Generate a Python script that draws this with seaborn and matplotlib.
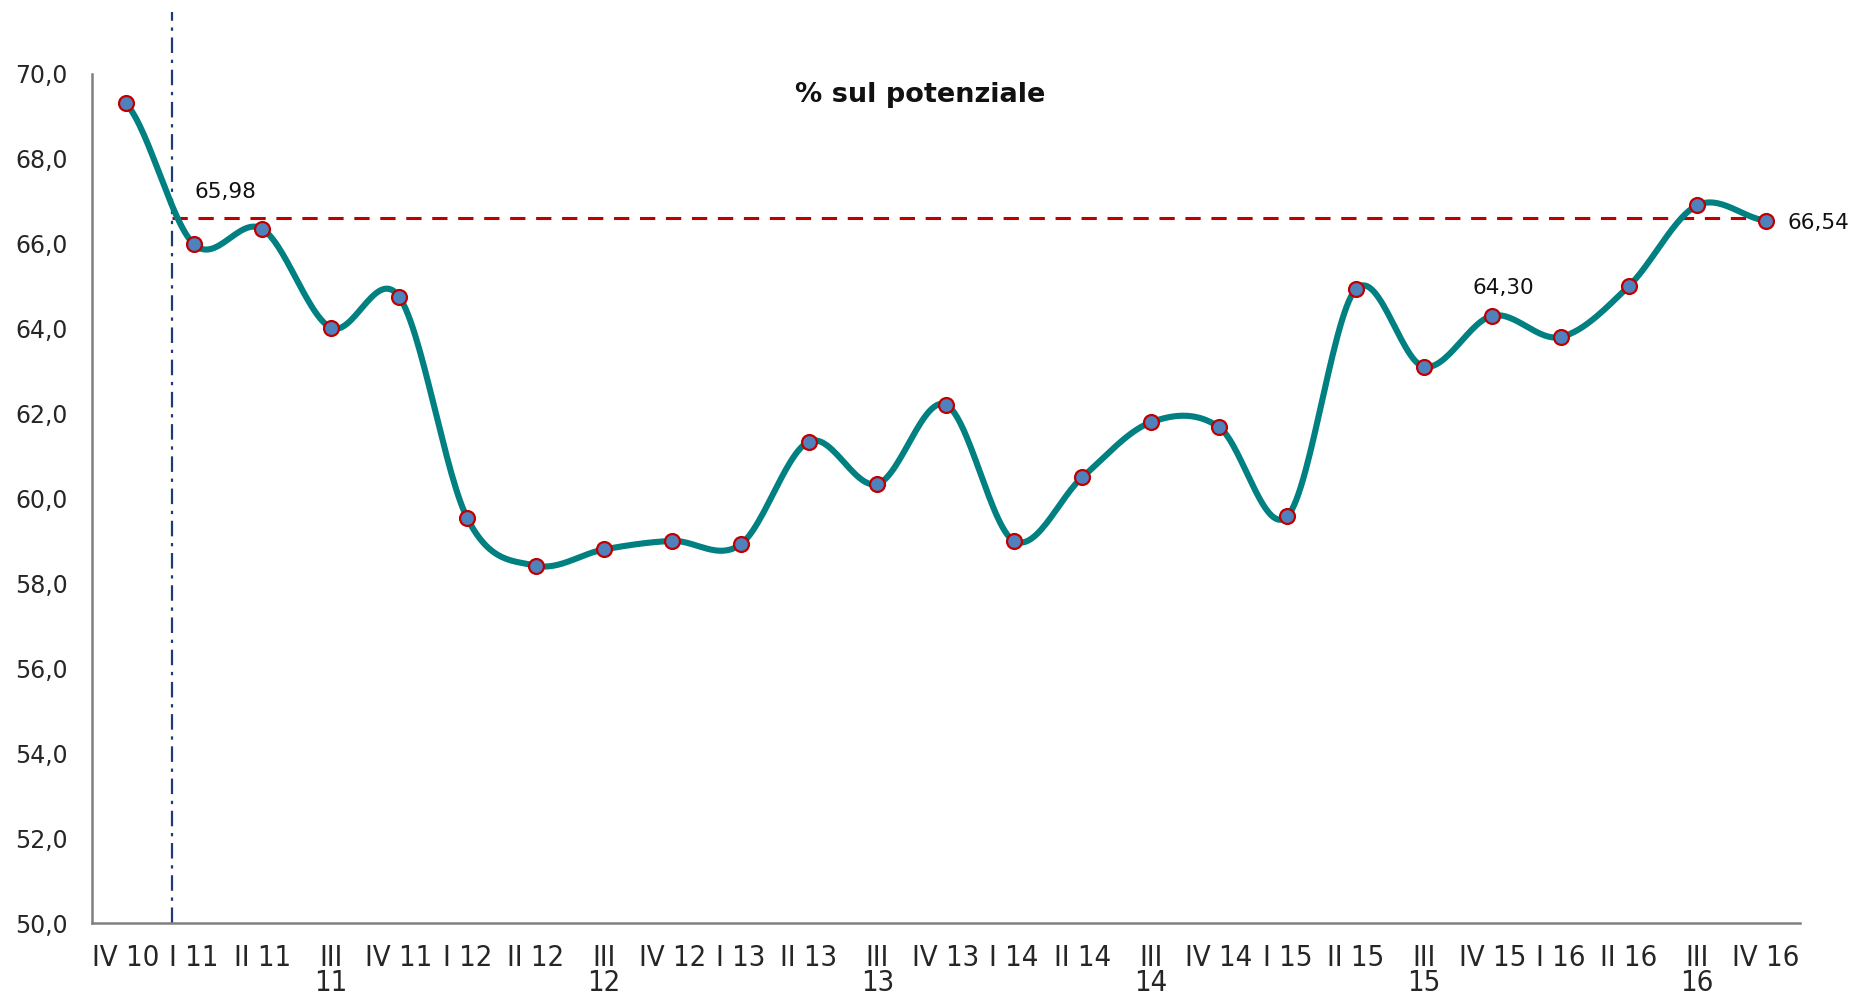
import numpy as np
import pandas as pd
import seaborn as sns
import matplotlib.pyplot as plt
from matplotlib import font_manager

# Quarterly values (% sul potenziale)
quarters = ['IV 10', 'I 11', 'II 11', 'III\n11', 'IV 11', 'I 12', 'II 12', 'III\n12',
            'IV 12', 'I 13', 'II 13', 'III\n13', 'IV 13', 'I 14', 'II 14', 'III\n14',
            'IV 14', 'I 15', 'II 15', 'III\n15', 'IV 15', 'I 16', 'II 16', 'III\n16', 'IV 16']
values = [69.30, 65.98, 66.34, 64.02, 64.75, 59.53, 58.42, 58.80, 59.00, 58.92,
          61.34, 60.34, 62.21, 59.00, 60.50, 61.79, 61.68, 59.58, 64.92, 63.10,
          64.30, 63.80, 65.00, 66.90, 66.54]
ref_level = 66.6
labelled = {1: '65,98', 20: '64,30', 24: '66,54'}

df = pd.DataFrame({'quarter': quarters, 'value': values, 'pos': np.arange(len(values))})


# Smoothed line (Catmull-Rom, like Excel's "smoothed line")
def smooth(y, n=30):
    y = np.asarray(y, dtype=float)
    p = np.concatenate([[y[0]], y, [y[-1]]])
    xs, ys = [], []
    for i in range(len(y) - 1):
        p0, p1, p2, p3 = p[i], p[i + 1], p[i + 2], p[i + 3]
        t = np.linspace(0, 1, n, endpoint=False)
        yy = 0.5 * (2 * p1 + (-p0 + p2) * t + (2 * p0 - 5 * p1 + 4 * p2 - p3) * t ** 2
                    + (-p0 + 3 * p1 - 3 * p2 + p3) * t ** 3)
        xs.extend(i + t)
        ys.extend(yy)
    xs.append(len(y) - 1)
    ys.append(y[-1])
    return pd.DataFrame({'x': xs, 'y': ys})


curve = smooth(values)

sns.set_style('white')
plt.rcParams['font.family'] = ['DejaVu Sans']

# narrow font for the quarter labels, if there is one
names = {f.name for f in font_manager.fontManager.ttflist}
xfont = dict(family='Liberation Sans Narrow', size=24) if 'Liberation Sans Narrow' in names \
    else dict(family='DejaVu Sans', stretch='condensed', size=21)

fig = plt.figure(figsize=(18.61, 9.97), dpi=100)
ax = fig.add_axes([0.0492, 0.0739, 0.9179, 0.9141])

# reference lines
ax.axvline(0.67, color='#1F3A78', lw=1.6, ls=(0, (7, 3, 1.5, 3)), zorder=1)
ax.plot([0.67, 24], [ref_level, ref_level], color='#C00000', lw=2.2, ls=(0, (5, 3.5)), zorder=1)

sns.lineplot(data=curve, x='x', y='y', color='#008080', lw=4.4, ax=ax, zorder=2)
sns.scatterplot(data=df, x='pos', y='value', color='#4F81BD', edgecolor='#C00000',
                linewidth=1.6, s=115, ax=ax, zorder=3)

for i, txt in labelled.items():
    if i == 1:
        off, ha = (0, 52), 'left'
    elif i == 20:
        off, ha = (11, 28), 'center'
    else:
        off, ha = (22, -2), 'left'
    ax.annotate(txt, (i, values[i]), xytext=off, textcoords='offset pixels',
                ha=ha, va='center', fontsize=15.5, color='#111111')

ax.text(11.62, 69.49, '% sul potenziale', ha='center', va='center',
        fontsize=19.5, fontweight='bold', color='#111111')

ax.set_xlim(-0.5, len(values) - 0.5)
ax.set_ylim(50, 71.45)
ax.set_yticks(np.arange(50, 70.1, 2))
ax.set_yticklabels([f'{v:.1f}'.replace('.', ',') for v in np.arange(50, 70.1, 2)])
ax.set_xticks(df['pos'])
ax.set_xticklabels(quarters, linespacing=0.85, fontfamily=xfont['family'],
                   fontsize=xfont['size'], fontstretch=xfont.get('stretch', 'normal'))
ax.set_xticks(np.arange(-0.5, len(values)), minor=True)
ax.tick_params(axis='x', which='major', length=0, pad=15)
ax.tick_params(axis='x', which='minor', length=8, color='#808080', width=1.5)
ax.tick_params(axis='y', length=9, color='#808080', width=1.5, labelsize=17, pad=8)
ax.set_xlabel('')
ax.set_ylabel('')

for side in ['top', 'right']:
    ax.spines[side].set_visible(False)
for side in ['left', 'bottom']:
    ax.spines[side].set_color('#808080')
    ax.spines[side].set_linewidth(1.8)
ax.spines['left'].set_bounds(50, 70)

fig.savefig('out.png', dpi=100)
